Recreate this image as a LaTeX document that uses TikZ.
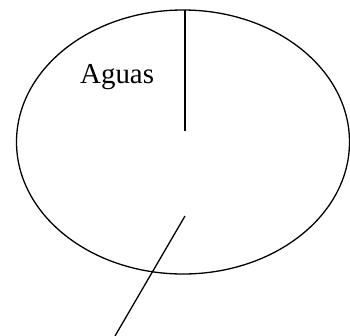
\documentclass[tikz,border=0pt]{standalone}
\usepackage{fontspec}
\setmainfont{Liberation Serif}
\usetikzlibrary{shapes.geometric}
\begin{document}
\begin{tikzpicture}[x=1bp,y=-1bp,
  ln/.style={line width=1.3bp, black},
  oval/.style={ellipse, draw, line width=1.3bp, minimum width=333bp, minimum height=264bp, inner sep=0pt},
  lbl/.style={font=\fontsize{29}{32}\selectfont, inner sep=0pt}]
\useasboundingbox (0,0) rectangle (350,336);
\node[oval] (ell) at (183,142) {};
\node[lbl, anchor=base west] (aguas) at (80,83) {Aguas};
\coordinate (vtop) at (185,9.5);
\coordinate (vbot) at (185,131);
\coordinate (stop) at (185,216);
\coordinate (sbot) at (115,336);
\draw[ln] (vtop) -- (vbot);
\draw[ln] (stop) -- (sbot);
\end{tikzpicture}
\end{document}
